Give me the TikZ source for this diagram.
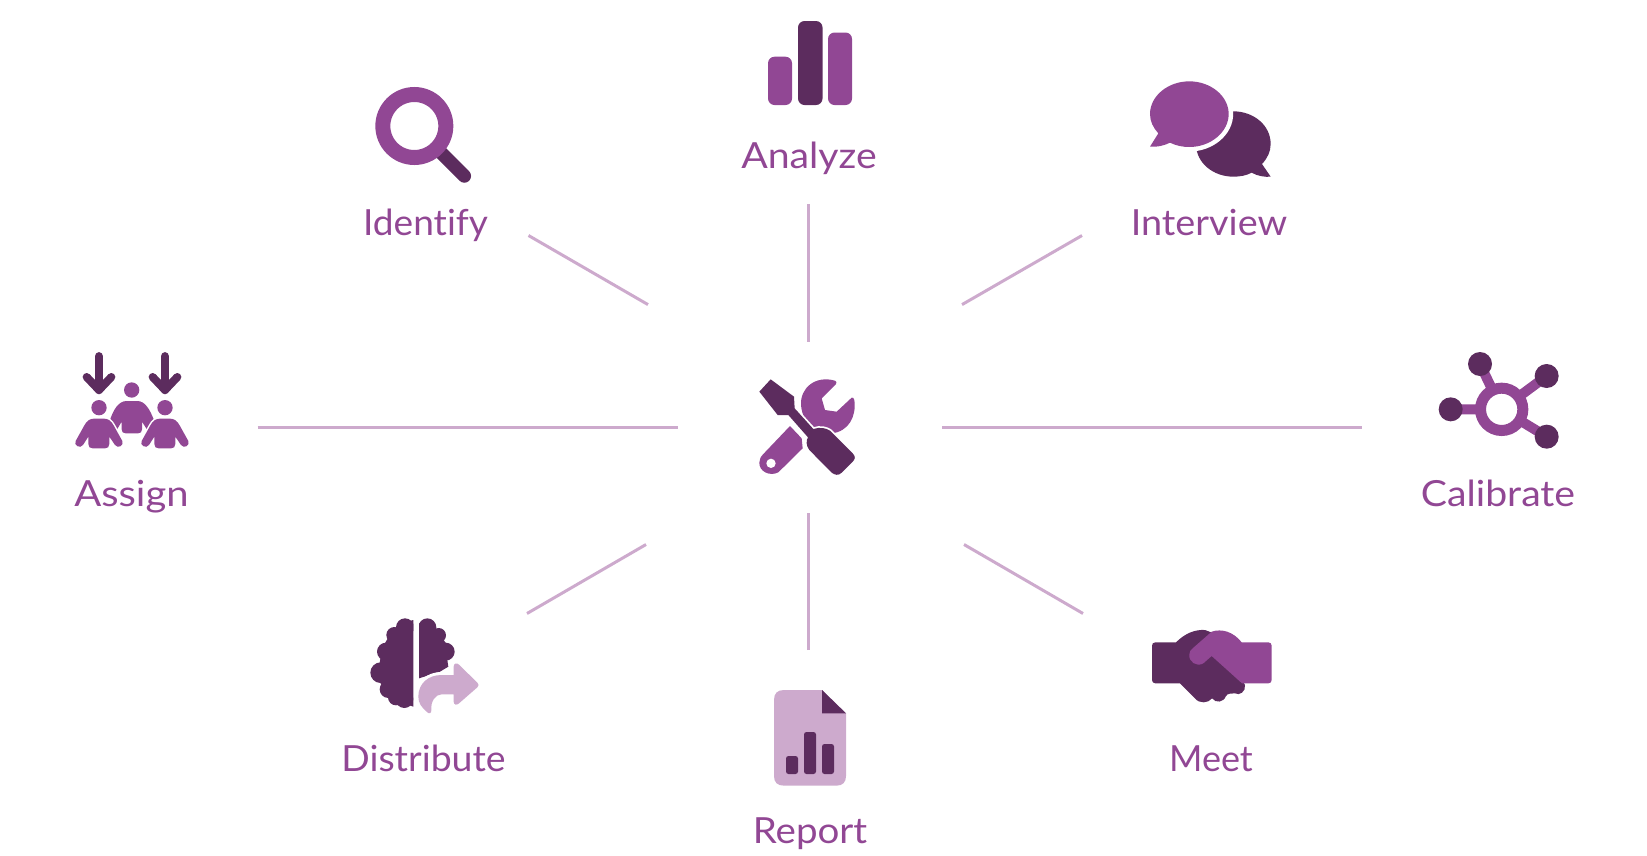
\documentclass[tikz,border=0pt]{standalone}
\usepackage{fontspec}
\setmainfont{Lato}[Ligatures=NoCommon]
\definecolor{pur}{HTML}{914794}
\definecolor{drk}{HTML}{5C2C5E}
\definecolor{lgt}{HTML}{CDAACD}
\newcommand{\stretched}[2]{\scalebox{#1}[1]{#2}}
\tikzset{
  zoomfrom/.style 2 args={shift={(#1,#2)},x=0.33333pt,y=-0.33333pt},
  spoke/.style={draw=lgt,line width=3pt},
  lab/.style={anchor=base,text=pur,font=\fontsize{36}{40}\selectfont,inner sep=0pt},
  gap/.style={preaction={draw=white,line width=#1,line join=round}},
}
\begin{document}
\begin{tikzpicture}[x=1pt,y=-1pt]
\useasboundingbox (0,0) rectangle (1647,855);
% spokes
\coordinate (i1) at (528.5,235.5); \coordinate (i2) at (648,304.6);
\coordinate (a1) at (808,204); \coordinate (a2) at (808,341.5);
\coordinate (v1) at (1082,235.5); \coordinate (v2) at (962,304.6);
\coordinate (s1) at (257.5,427.5); \coordinate (s2) at (677.5,427.5);
\coordinate (c1) at (1361.5,427.5); \coordinate (c2) at (942,427.5);
\coordinate (d1) at (527,613.5); \coordinate (d2) at (646,544.5);
\coordinate (r1) at (808,650); \coordinate (r2) at (808,512.6);
\coordinate (m1) at (1083,613.5); \coordinate (m2) at (964,544.5);
\foreach \p/\q in {i1/i2,a1/a2,v1/v2,s1/s2,c1/c2,d1/d2,r1/r2,m1/m2} \draw[spoke] (\p)--(\q);
% labels
\node[lab] (identify) at (425.5,235) {\stretched{1.03}{Identify}};
\node[lab] (analyze) at (809,168) {\stretched{1.09}{Analyze}};
\node[lab] (interview) at (1209,235) {\stretched{1.05}{Interview}};
\node[lab] (assign) at (131.5,506.5) {\stretched{1.11}{Assign}};
\node[lab] (calibrate) at (1498,506.5) {\stretched{1.09}{Calibrate}};
\node[lab] (distribute) at (423.5,771) {\stretched{1.04}{Distribute}};
\node[lab] (meet) at (1211,771) {\stretched{1.0}{Meet}};
\node[lab] (report) at (810,843) {\stretched{1.07}{Report}};
% centre: tools
\begin{scope}[zoomfrom={720}{360}]
\fill[pur] (345,62) .. controls (285,45) and (240,85) .. (243,135)
  .. controls (248,195) and (295,225) .. (335,220)
  .. controls (385,215) and (410,170) .. (403,120) .. controls (402,113) and (398,112) .. (395,113)
  -- (350,155) -- (315,150) -- (305,115) -- (348,72) .. controls (350,68) and (350,64) .. (345,62) -- cycle;
\fill[pur] (210,198) -- (245,235) -- (248,265) -- (175,337)
  .. controls (150,350) and (117,335) .. (118,308) .. controls (118,298) and (122,290) .. (130,282) -- cycle;
\fill[white] (153,310) circle[radius=14];
\path[fill=drk,gap=3.5pt] (118,95) -- (152,58) -- (222,110) -- (224,145) -- (280,207)
  .. controls (300,200) and (320,205) .. (330,212) -- (398,280) .. controls (408,290) and (405,298) .. (398,305)
  -- (365,338) .. controls (355,348) and (345,345) .. (335,338) -- (268,270) .. controls (258,258) and (258,240) .. (264,232)
  -- (205,165) -- (173,165) -- cycle;
\end{scope}
% identify
\begin{scope}[zoomfrom={360}{70}]
\draw[drk,line width=13.5pt,line cap=round] (230,235) -- (313,318);
\draw[pur,line width=15pt] (163,168) circle[radius=94.5];
\end{scope}
% analyze
\fill[pur,rounded corners=6.5pt] (768,56.7) rectangle (792,105);
\fill[drk,rounded corners=6.5pt] (798,21) rectangle (822.5,105);
\fill[pur,rounded corners=6.5pt] (828,32.5) rectangle (852,105);
% interview
\begin{scope}[zoomfrom={1140}{70}]
\fill[drk] (168,222) .. controls (168,165) and (220,124) .. (280,124)
  .. controls (340,124) and (392,165) .. (392,222) .. controls (392,245) and (382,265) .. (366,282)
  -- (392,320) .. controls (375,322) and (352,318) .. (335,308) .. controls (318,317) and (300,320) .. (280,320)
  .. controls (220,320) and (168,279) .. (168,222) -- cycle;
\path[fill=pur,gap=9pt] (148,34) .. controls (212,34) and (266,78) .. (266,132)
  .. controls (266,186) and (212,231) .. (148,231) .. controls (128,231) and (108,227) .. (90,218)
  .. controls (72,227) and (50,232) .. (30,230) -- (55,190) .. controls (40,174) and (30,154) .. (30,132)
  .. controls (30,78) and (84,34) .. (148,34) -- cycle;
\end{scope}
% assign
\begin{scope}[zoomfrom={60}{340}]
\foreach \ax in {117,315}{
  \draw[drk,line width=8.5pt,line cap=round,line join=round] (\ax,49) -- (\ax,150);
  \draw[drk,line width=8pt,line cap=round,line join=round] (\ax-37,111) -- (\ax,150) -- (\ax+37,111);
  \fill[pur] (\ax,203) circle[radius=23];
}
\fill[pur] (215,150) circle[radius=23];
\fill[pur] (150,240) .. controls (160,210) and (175,183) .. (200,183) -- (232,183)
  .. controls (256,183) and (270,210) .. (282,240) -- (262,270) -- (246,245) -- (246,268)
  .. controls (246,276) and (242,280) .. (234,280) -- (197,280) .. controls (189,280) and (185,276) .. (185,268) -- (185,245) -- (170,270) -- cycle;
\foreach \dx in {0,198}{
\begin{scope}[xshift=\dx*0.33333pt]
\path[fill=pur,gap=3pt] (72,258) .. controls (80,242) and (90,236) .. (102,236) -- (132,236)
  .. controls (144,236) and (154,242) .. (162,258) -- (187,303)
  .. controls (193,315) and (175,328) .. (165,315) -- (148,290) -- (148,312)
  .. controls (148,321) and (143,325) .. (135,325) -- (98,325) .. controls (90,325) and (85,321) .. (85,312) -- (85,290) -- (69,315)
  .. controls (60,328) and (40,315) .. (47,303) -- cycle;
\end{scope}}
\end{scope}
% calibrate
\begin{scope}[zoomfrom={1420}{340}]
\draw[pur,line width=10pt] (245,208) -- (180,72) (245,208) -- (380,108) (245,208) -- (380,290) (245,208) -- (92,208);
\fill[white] (245,208) circle[radius=63];
\draw[pur,line width=11pt] (245,208) circle[radius=63.5];
\fill[drk] (180,72) circle[radius=36] (380,108) circle[radius=36] (380,290) circle[radius=36] (92,208) circle[radius=36];
\end{scope}
% distribute
\begin{scope}[zoomfrom={360}{600}]
\begin{scope}
\clip (0,0) rectangle (160,340);
\fill[drk] (135,82) circle[radius=27] (103,105) circle[radius=24] (78,155) circle[radius=27]
  (62,218) circle[radius=31] (85,268) circle[radius=26] (108,292) circle[radius=24] (133,297) circle[radius=27];
\fill[drk] (118,72) -- (92,100) -- (66,145) -- (58,195) -- (56,240) -- (76,275) -- (105,300) -- (160,320) -- (160,60) -- cycle;
\end{scope}
\begin{scope}
\clip (177,0) rectangle (300,240);
\fill[drk] (202,82) circle[radius=27] (236,106) circle[radius=22] (257,155) circle[radius=27];
\fill[drk] (177,235) -- (177,70) -- (222,82) -- (245,112) -- (262,135) -- (262,180) -- (265,200) -- (240,215) -- cycle;
\end{scope}
\path[fill=lgt,gap=6pt] (175,290) .. controls (175,250) and (205,225) .. (245,225) -- (281,225) -- (281,200)
  .. controls (281,190) and (290,187) .. (297,194) -- (352,248) .. controls (357,253) and (357,257) .. (352,262)
  -- (297,310) .. controls (290,317) and (281,314) .. (281,305) -- (281,283) -- (245,283)
  .. controls (225,283) and (212,305) .. (214,330) .. controls (215,342) and (205,342) .. (200,335)
  .. controls (185,322) and (175,310) .. (175,290) -- cycle;
\end{scope}
% report
\begin{scope}[zoomfrom={760}{680}]
\fill[lgt] (72,30) -- (186,30) -- (258,100) -- (258,288) .. controls (258,307) and (248,317) .. (229,317)
  -- (72,317) .. controls (52,317) and (42,307) .. (42,288) -- (42,60) .. controls (42,40) and (52,30) .. (72,30) -- cycle;
\fill[drk] (186,30) -- (258,100) -- (186,100) -- cycle;
\fill[drk,rounded corners=2.5pt] (78,228) rectangle (114,282) (132,156) rectangle (168,282) (186,192) rectangle (222,282);
\end{scope}
% meet
\begin{scope}[zoomfrom={1140}{610}]
\fill[drk] (46,97) -- (108,97) .. controls (135,70) and (165,58) .. (195,60) -- (235,75) -- (315,225)
  .. controls (318,245) and (298,258) .. (285,250) .. controls (275,250) and (262,250) .. (258,258)
  .. controls (250,278) and (228,280) .. (216,265) .. controls (205,280) and (178,282) .. (165,265)
  -- (120,220) -- (46,220) .. controls (40,220) and (36,216) .. (36,210) -- (36,107) .. controls (36,101) and (40,97) .. (46,97) -- cycle;
\fill[pur] (215,65) .. controls (245,55) and (280,65) .. (305,97) -- (385,97)
  .. controls (391,97) and (395,101) .. (395,107) -- (395,210) .. controls (395,216) and (391,220) .. (385,220) -- (306,220)
  -- (215,138) -- (190,160) .. controls (170,172) and (145,155) .. (148,133) .. controls (148,125) and (152,120) .. (158,115) -- cycle;
\end{scope}
\end{tikzpicture}
\end{document}
